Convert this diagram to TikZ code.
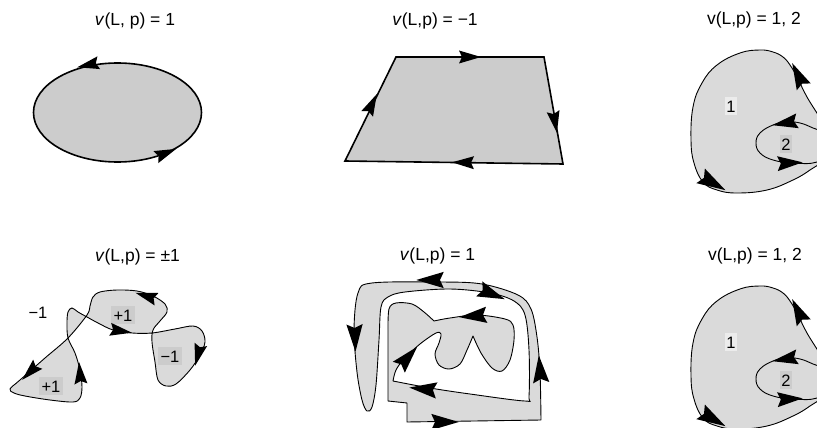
\documentclass[tikz,border=0pt]{standalone}
\usepackage{fontspec}
\setmainfont{Liberation Sans}
\definecolor{gA}{gray}{0.8}
\definecolor{gB}{gray}{0.855}
\definecolor{boxL}{gray}{0.925}
\definecolor{boxD}{gray}{0.8}
\newcommand{\arw}[3][1]{\fill[shift={#2},rotate=#3,scale=#1] (11,0) -- (-11,6.5) -- (-8,0) -- (-11,-6.5) -- cycle;}
\newcommand{\blobpic}{%
  \filldraw[fill=gB, line width=0.9] plot[smooth cycle, tension=0.7] coordinates {(760,50)(740,53)(717,65)(702,83)(693,107)(691,140)(694,163)(703,182)(717,190)(737,193)(767,190)(793,180)(810,170)(822,160)(828,140)(822,122)(807,97)(797,77)(790,65)(783,57)(773,52)};
  \draw[line width=0.9] plot[smooth cycle, tension=0.7] coordinates {(787,122)(773,125)(760,133)(756,143)(760,153)(773,160)(793,163)(817,162)(830,150)(828,135)(813,128)(800,123)};
  \arw[1.2]{(798,75)}{116}
  \arw[1.3]{(713,183)}{-30}
  \arw[1.15]{(785,123)}{190}
  \arw[1.15]{(790,163)}{3}
}
\tikzset{
  title/.style={font=\fontsize{17.5}{21}\selectfont, inner sep=0pt},
  lab/.style={font=\fontsize{16.5}{19}\selectfont, inner xsep=2pt, inner ysep=3.2pt, text height=12pt, text depth=0pt},
}
\begin{document}
\begin{tikzpicture}[x=1pt,y=-1pt]
\useasboundingbox (0,0) rectangle (817,428);
\fill[white] (0,0) rectangle (817,428);

% ---------- panel 1
\node[title] (t1) at (135,21) {\textit{v}(L, p) = 1};
\filldraw[fill=gA, line width=1.6] (117.5,112.5) ellipse [x radius=84, y radius=49.5];
\arw{(88,65)}{192}
\arw{(166,153)}{22}

% ---------- panel 2
\node[title] (t2) at (435,21) {\textit{v}(L,p) = −1};
\filldraw[fill=gA, line width=1.6, line join=miter] (396,57) -- (544,57) -- (563,164) -- (345,161) -- cycle;
\arw{(470,57)}{0}
\arw{(555,122)}{-80}
\arw{(463,162.5)}{179}
\arw{(372,104)}{64}

% ---------- panel 3
\node[title] (t3) at (754,20) {v(L,p) = 1, 2};
\blobpic
\node[lab, fill=boxL, inner xsep=1.5pt] (l31) at (731,106) {1};
\node[lab, fill=boxD, inner xsep=1.5pt] (l32) at (786,144) {2};

% ---------- panel 6
\node[title] (t6) at (755,256) {v(L,p) = 1, 2};
\begin{scope}[shift={(0,236)}]
\blobpic
\node[lab, fill=boxL, inner xsep=1.5pt] (l61) at (731,106) {1};
\node[lab, fill=boxD, inner xsep=1.5pt] (l62) at (786,144) {2};
\end{scope}

% ---------- panel 4
\node[title] (t4) at (137.5,257) {\textit{v}(L,p) = ±1};
\filldraw[fill=gB, line width=0.9] plot[smooth cycle, tension=0.55] coordinates {(113,330)(132,333)(152,333)(175,329)(193,326)(202,331)(205,342)(200,355)(190,370)(176,384)(166,386)(158,380)(155,362)(152,342)(153,330)(160,321)(167,312)(165,304)(153,296)(137,291)(117,290)(100,292)(93,297)(90,306)(87,315)(68,338)(45,358)(20,380)(10,389)(14,393)(25,396)(50,400)(73,402)(80,398)(82,387)(80,370)(75,353)(68,338)(67,323)(68,312)(72,308)(78,312)(87,317)(98,323)};
\node[lab, fill=boxD, inner xsep=3pt] (l4a) at (123,315) {+1};
\node[lab, fill=boxD, inner xsep=3pt] (l4b) at (51,386) {+1};
\node[lab, fill=boxD, inner xsep=3pt] (l4c) at (170,356) {−1};
\node[lab] (l4d) at (38,312) {−1};
\arw{(146,296)}{163}
\arw{(121,331)}{-9}
\arw{(198,355)}{-105}
\arw{(30,372)}{225}
\arw{(80,373)}{95}

% ---------- panel 5
\node[title] (t5) at (437.5,256) {\textit{v}(L,p) = 1};
\filldraw[fill=gB, line width=0.9, line join=round]
  (407,422) -- (541,420)
  -- plot[smooth, tension=0.55] coordinates {(541,420)(540,372)(537,337)(531,309)(518,295)(482,284)(440,282)(372,283)(358,293)(354,330)(357,372)(362,400)(367,411)(372,407)(376,385)(379,340)(381,307)(388,297)(405,292)(450,289)(490,293)(514,301)(525,315)(529,350)(529,396)(525,401)(470,394)(430,388)(393,381)}
  -- plot[smooth, tension=0.55] coordinates {(393,381)(396,370)(404,359)(420,344)(436,333)(441,334)(439,343)(435,354)(439,365)(449,369)(460,364)(467,350)(473,336)}
  -- plot[smooth, tension=0.55] coordinates {(473,336)(481,353)(492,368)(502,371)(510,360)(514,340)(513,325)(505,319)(477,315)(450,318)(434,321)}
  -- plot[smooth, tension=0.55] coordinates {(434,321)(424,312)(412,304)(396,303)(389,309)(388,330)}
  -- (388,401) -- (407,403) -- cycle;
\arw[1.25]{(430,280)}{180}
\arw[1.25]{(355,338)}{-88}
\arw[1.25]{(492,294)}{-22}
\arw[1.25]{(473,316)}{185}
\arw[1.25]{(408,357)}{48}
\arw[1.25]{(423,389)}{174}
\arw[1.25]{(540,369)}{95}
\arw[1.25]{(445,422)}{0}
\end{tikzpicture}
\end{document}
